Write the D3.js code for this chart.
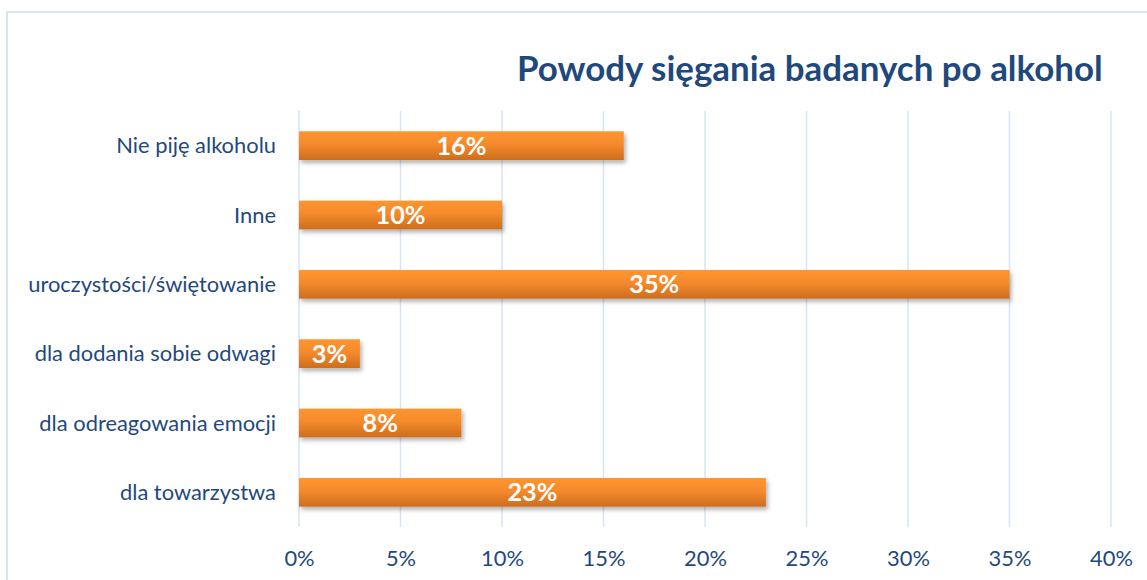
<!DOCTYPE html>
<html>
<head>
<meta charset="utf-8">
<script src="https://cdn.jsdelivr.net/npm/d3@7"></script>
<style>
  html, body { margin: 0; padding: 0; background: #fff; }
  svg { display: block; }
  text { font-family: Lato, "Open Sans", sans-serif; }
</style>
</head>
<body>
<svg id="chart" width="1147" height="580"></svg>
<script>
const categories = ["Nie piję alkoholu", "Inne", "uroczystości/świętowanie", "dla dodania sobie odwagi", "dla odreagowania emocji", "dla towarzystwa"];
const values = [0.16, 0.10, 0.35, 0.03, 0.08, 0.23];
const tickValues = [0, 0.05, 0.10, 0.15, 0.20, 0.25, 0.30, 0.35, 0.40];
const title = "Powody sięgania badanych po alkohol";

const svg = d3.select("#chart");
const textColor = "#1F497D";

// chart border
svg.append("rect").attr("x", 7).attr("y", 12).attr("width", 1200).attr("height", 700)
  .attr("fill", "none").attr("stroke", "#D9E4F2").attr("stroke-width", 2);

const defs = svg.append("defs");
const grad = defs.append("linearGradient").attr("id", "barGrad").attr("x1", 0).attr("y1", 0).attr("x2", 0).attr("y2", 1);
grad.append("stop").attr("offset", "0%").attr("stop-color", "#FF952F");
grad.append("stop").attr("offset", "45%").attr("stop-color", "#F48A2C");
grad.append("stop").attr("offset", "100%").attr("stop-color", "#CD6D1E");
const f = defs.append("filter").attr("id", "shadow").attr("x", "-10%").attr("y", "-30%").attr("width", "130%").attr("height", "180%");
f.append("feDropShadow").attr("dx", 2).attr("dy", 3).attr("stdDeviation", 2).attr("flood-color", "#000").attr("flood-opacity", 0.3);

const x = d3.scaleLinear().domain([0, 0.4]).range([299, 1111]);
const y = d3.scaleBand().domain(categories).range([111, 527]).paddingInner(0.586).paddingOuter(0.293);

// gridlines
svg.append("g").selectAll("line").data(tickValues).join("line")
  .attr("x1", d => x(d)).attr("x2", d => x(d))
  .attr("y1", 111).attr("y2", 527)
  .attr("stroke", "#D9E4F2").attr("stroke-width", 1.5);

// x axis labels
const xAxis = d3.axisBottom(x).tickValues(tickValues).tickFormat(d3.format(".0%")).tickSize(0).tickPadding(0);
const gx = svg.append("g").attr("transform", "translate(0,550)").call(xAxis);
gx.select(".domain").remove();
gx.selectAll("text").attr("fill", textColor).attr("font-size", 19).attr("dy", "0.71em")
  .style("font-family", "Lato, 'Open Sans', sans-serif");

// y axis labels
const yAxis = d3.axisLeft(y).tickSize(0).tickPadding(0);
const gy = svg.append("g").attr("transform", "translate(276,0)").call(yAxis);
gy.select(".domain").remove();
gy.selectAll("text").attr("fill", textColor).attr("font-size", 19).attr("dy", "0.35em")
  .style("font-family", "Lato, 'Open Sans', sans-serif");

// fit category label size to reference width
(function () {
  const t = gy.selectAll("text").filter(d => d === "uroczystości/świętowanie").node();
  const w = t.getComputedTextLength();
  const fs = 19 * 248 / w;
  gy.selectAll("text").attr("font-size", fs);
  gx.selectAll("text").attr("font-size", fs);
})();

// bars
svg.append("g").selectAll("rect").data(values).join("rect")
  .attr("x", x(0))
  .attr("y", (d, i) => y(categories[i]))
  .attr("width", d => x(d) - x(0))
  .attr("height", y.bandwidth())
  .attr("fill", "url(#barGrad)")
  .attr("filter", "url(#shadow)");

// data labels
const labels = svg.append("g").selectAll("text").data(values).join("text")
  .attr("x", d => (x(0) + x(d)) / 2)
  .attr("y", (d, i) => y(categories[i]) + y.bandwidth() / 2)
  .attr("dy", "0.36em")
  .attr("text-anchor", "middle")
  .attr("fill", "#fff")
  .attr("font-weight", "bold")
  .attr("font-size", 24)
  .text(d => d3.format(".0%")(d));
(function () {
  const n = labels.filter(d => d === 0.23).node();
  const w = n.getComputedTextLength();
  labels.attr("font-size", 24 * 50 / w);
})();

// title
const tt = svg.append("text").attr("x", 517).attr("y", 81)
  .attr("fill", textColor).attr("font-weight", "bold").attr("font-size", 30)
  .text(title);
(function () {
  const w = tt.node().getComputedTextLength();
  tt.attr("font-size", 30 * 586 / w);
})();
</script>
</body>
</html>
